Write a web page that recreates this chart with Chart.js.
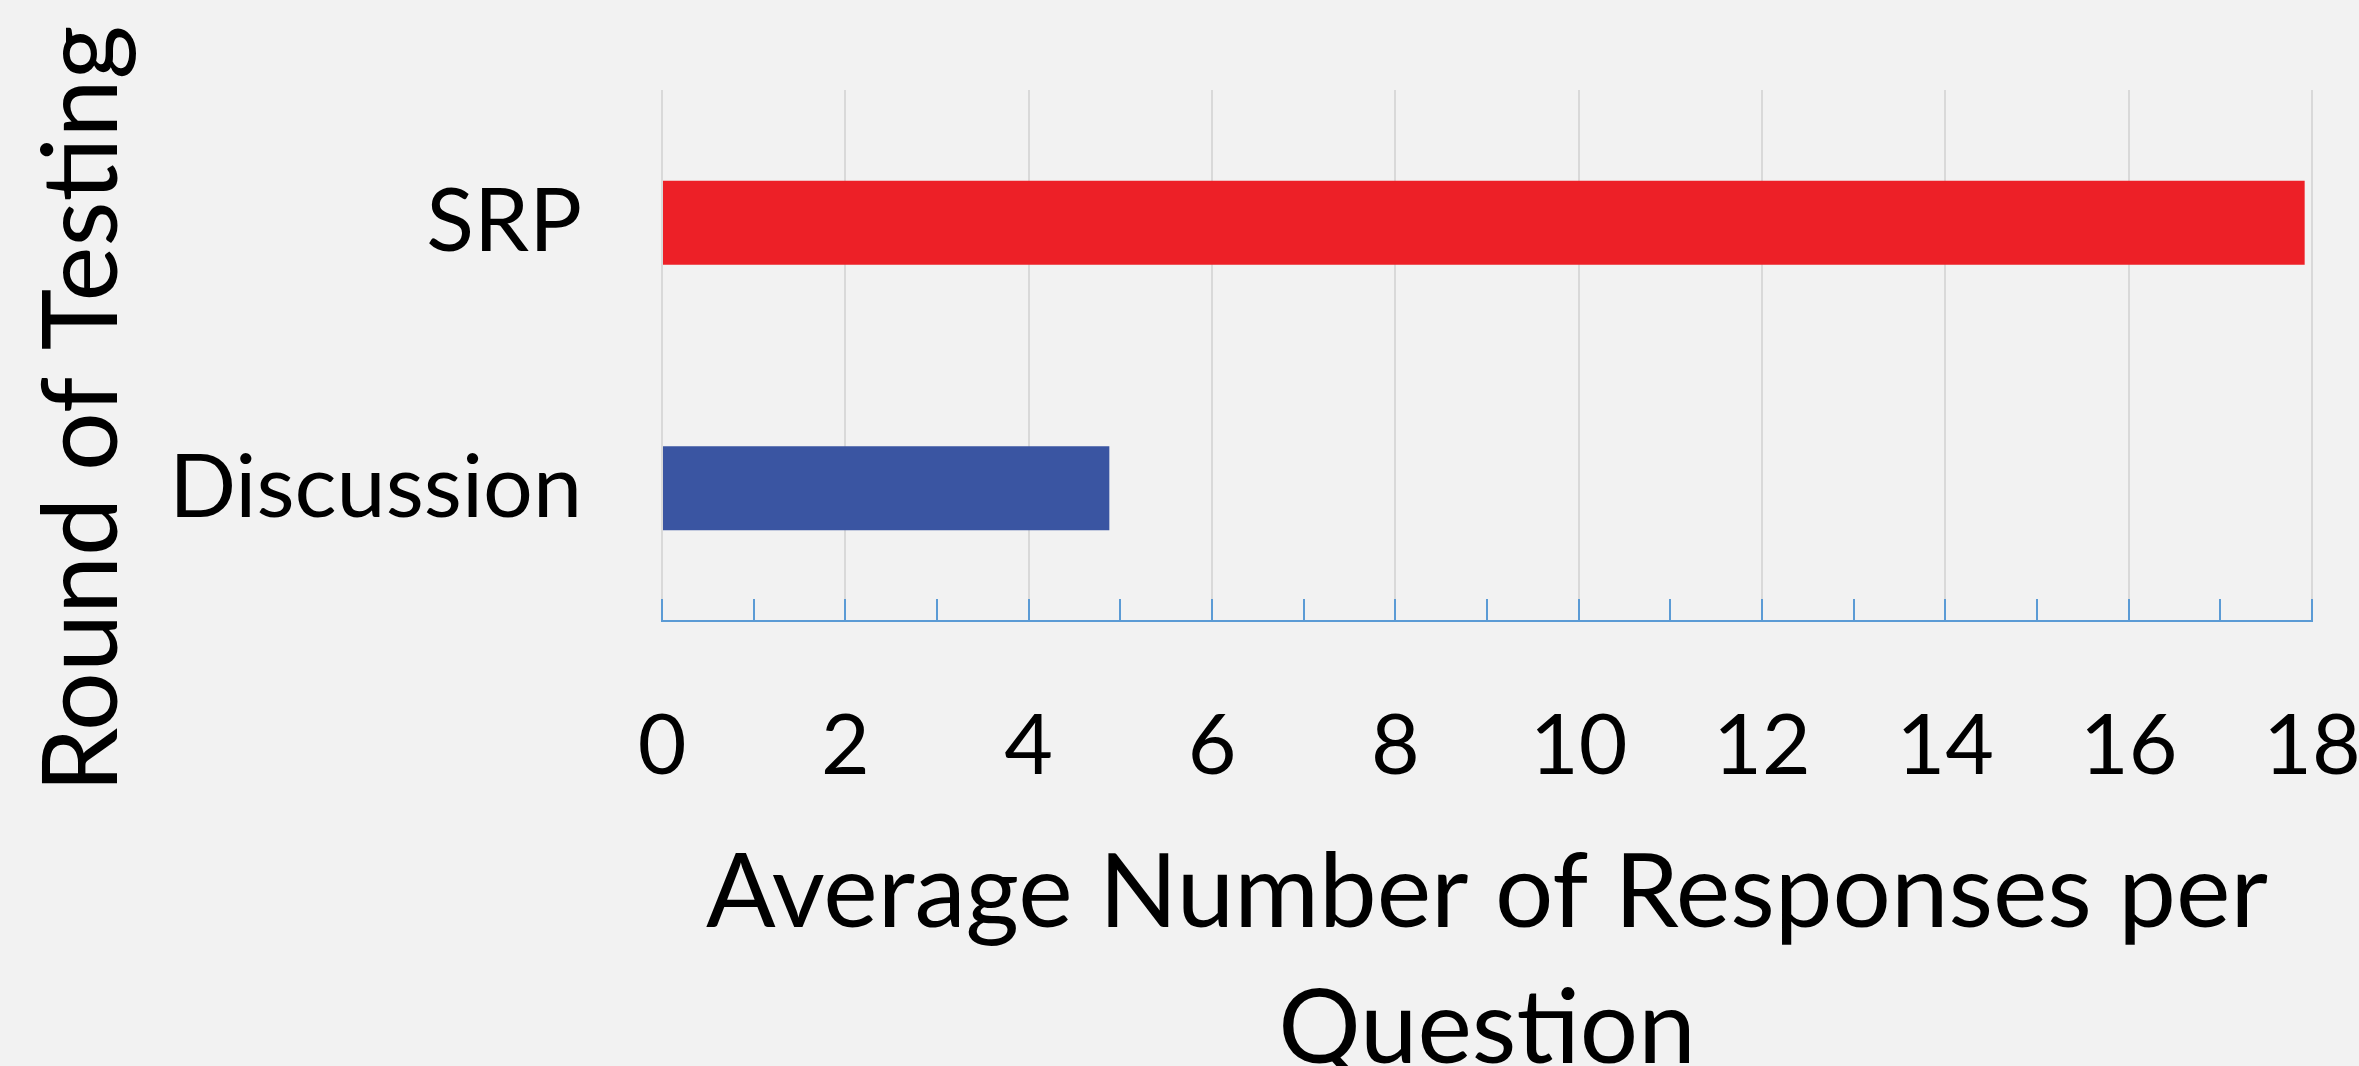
<!DOCTYPE html>
<html>
<head>
<meta charset="utf-8">
<script src="https://cdn.jsdelivr.net/npm/chart.js@4.4.1/dist/chart.umd.min.js"></script>
<style>
  html, body { margin: 0; padding: 0; background: #f2f2f2; overflow: hidden; }
  #wrap { width: 2359px; height: 1066px; position: relative; }
</style>
</head>
<body>
<div id="wrap"><canvas id="myChart"></canvas></div>
<script>
// categories and values
var rounds = ['SRP', 'Discussion'];
var avgResponses = [17.92, 4.88];
var barColors = ['#ed2027', '#3a55a2'];
var xMin = 0, xMax = 18;
var xTitle = ['Average Number of Responses per', 'Question'];
var yTitle = 'Round of Testing';

var fontName = 'Lato, "Open Sans", sans-serif';

// minor tick marks point up into the plot, and the y title sits a bit low
var extras = {
    id: 'extras',
    afterDraw: function(chart) {
        var ctx = chart.ctx;
        var x = chart.scales.x;
        ctx.save();
        ctx.strokeStyle = '#5b9bd5';
        ctx.lineWidth = 2;
        for (var v = xMin; v <= xMax; v++) {
            var px = Math.round(x.getPixelForValue(v));
            ctx.beginPath();
            ctx.moveTo(px, x.top);
            ctx.lineTo(px, x.top - 22);
            ctx.stroke();
        }
        // y axis title
        ctx.translate(83, 409);
        ctx.rotate(-Math.PI / 2);
        ctx.fillStyle = '#000';
        ctx.font = '104px ' + fontName;
        ctx.textAlign = 'center';
        ctx.textBaseline = 'middle';
        ctx.fillText(yTitle, 0, 0);
        ctx.restore();
    }
};

var ctx = document.getElementById('myChart').getContext('2d');
var myChart = new Chart(ctx, {
    type: 'bar',
    data: {
        labels: rounds,
        datasets: [{
            data: avgResponses,
            backgroundColor: barColors,
            barPercentage: 0.316,
            categoryPercentage: 1
        }]
    },
    options: {
        indexAxis: 'y',
        responsive: true,
        maintainAspectRatio: false,
        animation: false,
        layout: { padding: { left: 0, right: 47, top: 90, bottom: 0 } },
        plugins: { legend: { display: false }, tooltip: { enabled: false } },
        scales: {
            x: {
                min: xMin,
                max: xMax,
                afterFit: function(s) {
                    s.height = 445;
                    s.paddingLeft = 0;
                    s.paddingRight = 0;
                },
                border: { display: true, color: '#5b9bd5', width: 2 },
                grid: {
                    drawTicks: false,
                    lineWidth: 2,
                    color: function(c) {
                        return c.tick && c.tick.value % 2 === 0 ? '#d9d9d9' : 'rgba(0,0,0,0)';
                    }
                },
                ticks: {
                    stepSize: 1,
                    autoSkip: false,
                    maxRotation: 0,
                    padding: 76,
                    color: '#000',
                    font: { family: fontName, size: 84 },
                    callback: function(v) { return v % 2 === 0 ? v : ''; }
                },
                title: {
                    display: true,
                    text: xTitle,
                    color: '#000',
                    font: { family: fontName, size: 103, lineHeight: 1.32 },
                    padding: { top: 0, bottom: -32 }
                }
            },
            y: {
                afterFit: function(s) {
                    s.width = 662;
                    s.paddingTop = 0;
                    s.paddingBottom = 0;
                },
                border: { display: false },
                grid: { display: false, drawTicks: false },
                ticks: {
                    padding: 80,
                    color: '#000',
                    font: { family: fontName, size: 88 }
                }
            }
        }
    },
    plugins: [extras]
});
</script>
</body>
</html>
